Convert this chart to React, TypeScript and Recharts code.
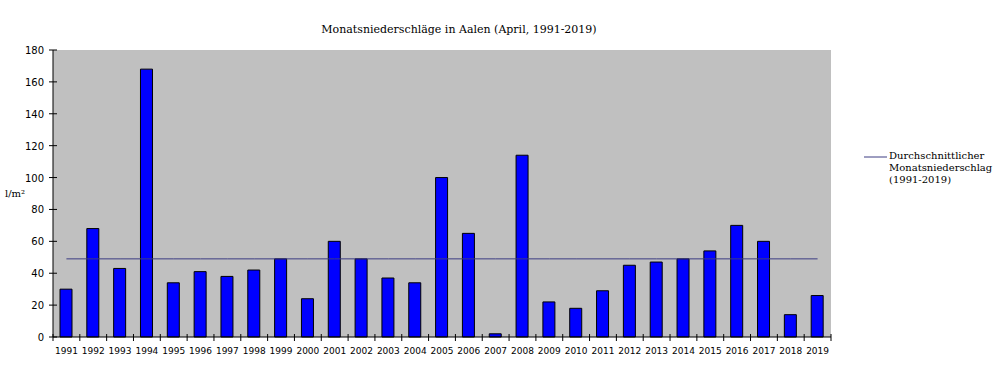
import React from 'react';
import { ComposedChart, Bar, Line, XAxis, YAxis, CartesianGrid } from 'recharts';

const years = ['1991','1992','1993','1994','1995','1996','1997','1998','1999','2000','2001','2002','2003','2004','2005','2006','2007','2008','2009','2010','2011','2012','2013','2014','2015','2016','2017','2018','2019'];
const precipitation = [30,68,43,168,34,41,38,42,49,24,60,49,37,34,100,65,2,114,22,18,29,45,47,49,54,70,60,14,26];
const averageValue = 49;
const yTicks = [0,20,40,60,80,100,120,140,160,180];
const legendLines = ['Durchschnittlicher', 'Monatsniederschlag', '(1991-2019)'];

const data = years.map((y, i) => ({ year: y, value: precipitation[i], avg: averageValue }));

const W = 1000;
const H = 373;
const M = { top: 50, right: 169, bottom: 0, left: 0 };
const Y_W = 53;
const X_H = 36;
const plotW = W - M.left - M.right - Y_W;
const step = plotW / years.length;

const XTick = (props: any) => {
  const { x, y, payload, index } = props;
  const left = x - step / 2;
  return (
    <g>
      <line x1={left} x2={left} y1={y - 3} y2={y + 4} stroke="#000" />
      {index === years.length - 1 && (
        <line x1={x + step / 2} x2={x + step / 2} y1={y - 3} y2={y + 4} stroke="#000" />
      )}
      <text x={x} y={y + 17} textAnchor="middle" fontFamily="DejaVu Sans" fontSize={9} fill="#000">
        {payload.value}
      </text>
    </g>
  );
};

const YTick = (props: any) => {
  const { x, y, payload } = props;
  return (
    <g>
      <line x1={x - 4} x2={x + 4} y1={y} y2={y} stroke="#000" />
      <text x={x - 9} y={y + 4} textAnchor="end" fontFamily="DejaVu Sans" fontSize={10} fill="#000">
        {payload.value}
      </text>
    </g>
  );
};

export default function App() {
  return (
    <div style={{ position: 'absolute', left: 0, top: 0, width: W, height: H, background: '#fff' }}>
      <div style={{ position: 'absolute', left: 70, width: 778, top: 23, textAlign: 'center', fontFamily: 'DejaVu Serif', fontSize: 11, color: '#000', zIndex: 2 }}>
        Monatsniederschläge in Aalen (April, 1991-2019)
      </div>
      <div style={{ position: 'absolute', left: 863, top: 150, display: 'flex', alignItems: 'flex-start', fontFamily: 'DejaVu Serif', fontSize: 10, lineHeight: '12px', color: '#000', zIndex: 2 }}>
        <svg width={26} height={12} style={{ flex: 'none' }}>
          <line x1={1} x2={24} y1={7} y2={7} stroke="#3c3c82" strokeWidth={1} />
        </svg>
        <div>
          {legendLines.map((t) => (<div key={t}>{t}</div>))}
        </div>
      </div>
      <ComposedChart width={W} height={H} data={data} margin={M}>
        <CartesianGrid fill="#c0c0c0" horizontal={false} vertical={false} />
        <XAxis
          dataKey="year"
          xAxisId="main"
          interval={0}
          height={X_H}
          tickLine={false}
          tickSize={0}
          tickMargin={0}
          axisLine={{ stroke: '#000' }}
          tick={<XTick />}
        />
        <XAxis dataKey="year" xAxisId="top" orientation="top" height={0} tick={false} tickLine={false} axisLine={{ stroke: '#8c8c8c', strokeWidth: 1 }} />
        <YAxis
          yAxisId="main"
          width={Y_W}
          domain={[0, 180]}
          ticks={yTicks}
          interval={0}
          tickLine={false}
          tickSize={0}
          tickMargin={0}
          axisLine={{ stroke: '#000' }}
          tick={<YTick />}
          label={{ value: 'l/m²', position: 'insideLeft', offset: 5, fontFamily: 'DejaVu Serif', fontSize: 10, fill: '#000' }}
        />
        <YAxis yAxisId="right" orientation="right" width={0} domain={[0, 180]} tick={false} tickLine={false} axisLine={{ stroke: '#8c8c8c', strokeWidth: 1 }} />
        <Bar xAxisId="main" yAxisId="main" dataKey="value" fill="#0000ff" stroke="#000" strokeWidth={1} barSize={12} isAnimationActive={false} />
        <Line xAxisId="main" yAxisId="main" dataKey="avg" type="linear" stroke="#3c3c82" strokeWidth={1} dot={false} activeDot={false} isAnimationActive={false} />
      </ComposedChart>
    </div>
  );
}
